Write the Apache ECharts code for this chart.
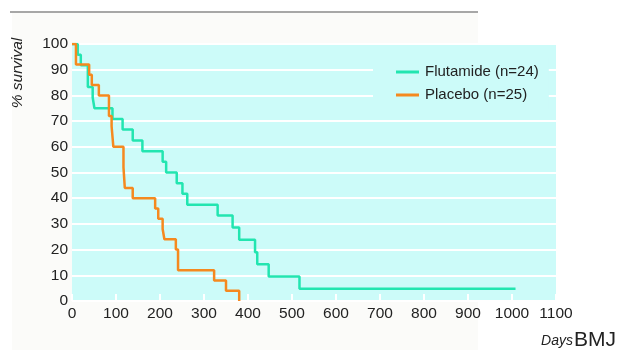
<!DOCTYPE html>
<html>
<head>
<meta charset="utf-8">
<script src="https://cdn.jsdelivr.net/npm/echarts@6/dist/echarts.min.js"></script>
<style>
html,body{margin:0;padding:0;background:#ffffff;}
#chart{width:624px;height:350px;}
</style>
</head>
<body>
<div id="chart"></div>
<script>
// Kaplan-Meier survival data
const flutamideDays = [0, 13, 20, 36, 47, 51, 92, 115, 138, 160, 206, 214, 238, 251, 262, 331, 365, 380, 416, 421, 447, 517, 1008];
const flutamideSurv = [100, 95.8, 91.7, 83.3, 79.2, 75, 70.8, 66.7, 62.5, 58.3, 54.2, 50, 45.8, 41.7, 37.5, 33.3, 28.6, 23.8, 19.0, 14.3, 9.5, 4.8, 4.8];
const placeboDays = [0, 9, 39, 45, 61, 84, 90, 94, 117, 120, 138, 189, 196, 206, 210, 236, 241, 323, 350, 380];
const placeboSurv = [100, 92, 88, 84, 80, 72, 68, 60, 52, 44, 40, 36, 32, 28, 24, 20, 12, 8, 4, 0];
const seriesNames = ['Flutamide (n=24)', 'Placebo (n=25)'];
const yTitle = '% survival';
const xTitle = 'Days';
const brand = 'BMJ';

const FONT = "'Liberation Sans', Arial, sans-serif";
const pairs = (xs, ys) => xs.map((x, i) => [x, ys[i]]);

const chart = echarts.init(document.getElementById('chart'), null, {renderer: 'canvas'});
chart.setOption({
  animation: false,
  backgroundColor: '#ffffff',
  grid: {
    left: 72, right: 68, top: 44, bottom: 49,
    show: true, backgroundColor: '#ccfbf9', borderWidth: 0
  },
  xAxis: {
    type: 'value', min: 0, max: 1100, interval: 100,
    axisLine: {show: false},
    axisTick: {show: true, inside: true, length: 7, lineStyle: {color: '#ffffff', width: 2}},
    splitLine: {show: false},
    axisLabel: {fontFamily: FONT, fontSize: 15.5, color: '#222', margin: 5, formatter: v => String(v)}
  },
  yAxis: {
    type: 'value', min: 0, max: 100, interval: 10,
    axisLine: {show: false},
    axisTick: {show: false},
    splitLine: {show: true, lineStyle: {color: '#ffffff', width: 2}},
    axisLabel: {fontFamily: FONT, fontSize: 15.5, color: '#222', margin: 4, formatter: v => String(v)}
  },
  legend: {
    orient: 'vertical',
    left: 373, top: 58,
    padding: [5, 10, 5, 23],
    backgroundColor: '#ccfbf9',
    itemWidth: 23, itemHeight: 3,
    itemGap: 5,
    icon: 'rect',
    textStyle: {fontFamily: FONT, fontSize: 15, color: '#222', lineHeight: 18, padding: [0, 0, 0, 1]},
    data: seriesNames
  },
  series: [
    {
      name: seriesNames[0], type: 'line', step: 'end', showSymbol: false, symbol: 'none',
      data: pairs(flutamideDays, flutamideSurv),
      lineStyle: {color: '#22e5b0', width: 2.5}, itemStyle: {color: '#22e5b0'}, z: 3
    },
    {
      name: seriesNames[1], type: 'line', step: 'end', showSymbol: false, symbol: 'none',
      data: pairs(placeboDays, placeboSurv),
      lineStyle: {color: '#f5891f', width: 2.5}, itemStyle: {color: '#f5891f'}, z: 4
    }
  ],
  graphic: [
    {type: 'rect', z: -10, shape: {x: 12, y: 13, width: 466, height: 337}, style: {fill: '#fbfbf9'}},
    {type: 'line', shape: {x1: 10, y1: 12, x2: 478, y2: 12}, style: {stroke: '#8a8a8a', lineWidth: 1.5}},
    {type: 'text', x: 18, y: 73, rotation: Math.PI / 2,
     style: {text: yTitle, fontFamily: FONT, fontStyle: 'italic', fontSize: 15.5, fill: '#222', textAlign: 'center', textVerticalAlign: 'middle'}},
    {type: 'text', x: 573, y: 341,
     style: {text: xTitle, fontFamily: FONT, fontStyle: 'italic', fontSize: 14, fill: '#222', textAlign: 'right', textVerticalAlign: 'middle'}},
    {type: 'text', x: 574, y: 340,
     style: {text: brand, fontFamily: FONT, fontSize: 21, fill: '#222', textAlign: 'left', textVerticalAlign: 'middle'}}
  ]
});
</script>
</body>
</html>
